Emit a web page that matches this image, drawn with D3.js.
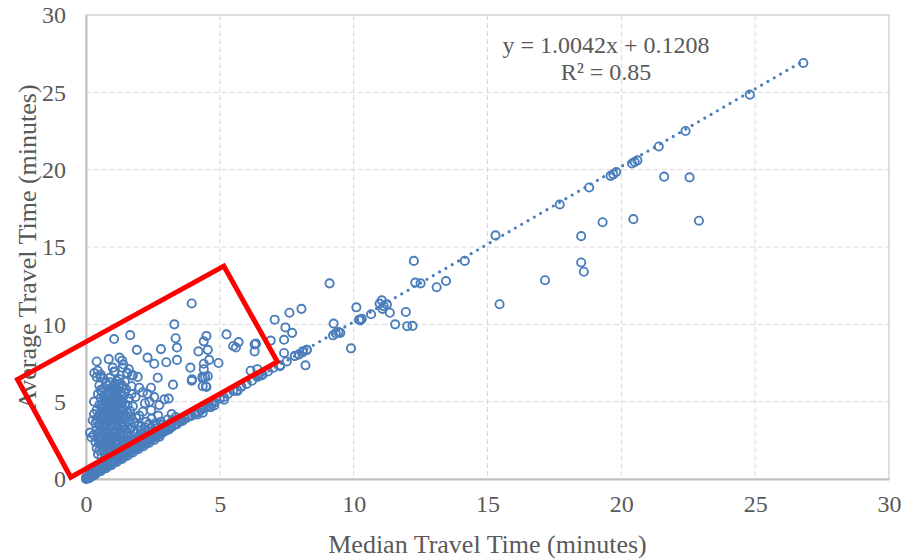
<!DOCTYPE html>
<html>
<head>
<meta charset="utf-8">
<script src="https://cdn.jsdelivr.net/npm/d3@7"></script>
<style>
  html, body { margin: 0; padding: 0; background: #ffffff; }
  svg { display: block; }
  .serif { font-family: "Liberation Serif", "Times New Roman", "DejaVu Serif", serif; }
</style>
</head>
<body>
<svg id="chart" width="904" height="559"></svg>
<script>
// Median vs. average travel time per trip pair, in minutes: [median, average]
const trips = [
  // near the origin and along the y = x band
  [0.00,0.00],[0.03,0.02],[0.06,0.04],[0.10,0.08],[0.00,0.10],[0.12,0.05],[0.15,0.12],[0.20,0.18],[0.25,0.20],[0.30,0.26],
  [0.02,0.05],[0.05,0.10],[0.08,0.12],[0.10,0.20],[0.12,0.15],[0.15,0.25],[0.18,0.22],[0.20,0.30],[0.22,0.35],[0.25,0.28],
  [0.28,0.40],[0.30,0.33],[0.32,0.45],[0.35,0.40],[0.38,0.50],[0.40,0.45],[0.42,0.60],[0.45,0.52],[0.48,0.58],[0.50,0.55],
  [0.52,0.70],[0.55,0.62],[0.58,0.75],[0.60,0.66],[0.62,0.80],[0.65,0.72],[0.68,0.85],[0.70,0.78],[0.72,0.95],[0.75,0.82],
  [0.78,0.90],[0.80,0.88],[0.82,1.05],[0.85,0.93],[0.88,1.00],[0.90,0.98],[0.92,1.15],[0.95,1.05],[0.98,1.10],[1.00,1.08],
  [1.02,1.25],[1.05,1.12],[1.08,1.20],[1.10,1.18],[1.12,1.35],[1.15,1.25],[1.18,1.30],[1.20,1.28],[1.22,1.45],[1.25,1.33],
  [1.28,1.40],[1.30,1.40],[1.33,1.55],[1.35,1.45],[1.38,1.50],[1.40,1.50],[1.43,1.62],[1.45,1.55],[1.48,1.60],[1.50,1.60],
  [1.55,1.70],[1.58,1.68],[1.60,1.75],[1.65,1.78],[1.68,1.85],[1.70,1.80],[1.75,1.90],[1.78,1.88],[1.80,1.95],[1.85,2.00],
  [1.88,1.98],[1.90,2.10],[1.95,2.05],[1.98,2.15],[2.00,2.12],[2.05,2.20],[2.10,2.22],[2.12,2.30],[2.15,2.27],[2.20,2.35],
  [2.25,2.38],[2.28,2.45],[2.30,2.42],[2.35,2.50],[2.40,2.52],[2.45,2.60],[2.50,2.62],[2.55,2.70],[2.60,2.72],[2.65,2.80],
  [2.70,2.85],[2.75,2.90],[2.80,2.95],[2.85,3.00],[2.90,3.05],[2.95,3.10],[3.00,3.15],[3.05,3.25],[3.10,3.20],
  [0.30,0.60],[0.40,0.75],[0.50,0.85],[0.60,1.00],[0.70,1.10],[0.80,1.20],[0.90,1.30],[1.00,1.45],[1.10,1.55],[1.20,1.65],
  [1.30,1.75],[1.40,1.85],[1.50,1.95],[1.60,2.05],[1.70,2.15],[1.80,2.25],[1.90,2.35],[2.00,2.45],[2.10,2.55],[2.20,2.70],
  [2.35,2.85],[2.50,2.95],[2.60,3.10],[2.75,3.20],[2.90,3.35],[3.00,3.45],
  [0.35,0.30],[0.55,0.50],[0.75,0.70],[0.95,0.90],[1.15,1.10],[1.35,1.30],[1.55,1.50],[1.75,1.72],[1.95,1.92],[2.15,2.12],
  [2.35,2.33],[2.55,2.52],[2.75,2.74],[0.45,0.80],[0.65,1.05],[0.85,1.30],[1.05,1.50],[1.25,1.70],[1.45,1.95],[1.65,2.20],
  [1.85,2.40],[2.05,2.65],[2.25,2.85],[2.45,3.05],[2.65,3.30],[2.85,3.50],[3.15,3.60],[3.25,3.80],[3.35,4.00],
  [1.60,2.35],[1.75,2.50],[1.90,2.65],[2.00,2.80],[2.15,2.95],[2.30,3.10],[2.45,3.30],[1.70,2.80],[1.85,2.95],[2.05,3.15],
  [2.20,3.35],[2.35,3.55],[2.60,3.45],[2.80,3.70],[1.65,3.20],[1.95,3.45],[2.45,3.90],[2.70,4.10],[3.05,3.85],[3.20,4.20],
  [3.20,3.35],[3.30,3.50],[3.40,3.55],[3.50,3.70],[3.55,3.85],[3.60,3.75],[3.70,3.90],[3.80,4.00],[3.85,4.10],[3.95,4.10],
  [4.05,4.20],[4.10,4.35],[4.20,4.30],[4.30,4.45],[4.40,4.60],[4.50,4.65],[4.60,4.75],[4.70,4.85],[4.80,4.95],[5.00,5.20],
  [5.15,5.30],[5.30,5.50],[5.50,5.70],[5.65,5.75],[5.80,5.95],[6.00,6.15],[6.20,6.35],[6.40,6.60],[6.55,6.70],[6.80,6.95],
  [7.00,7.20],[7.25,7.35],[7.50,7.60],[7.80,7.95],[7.95,8.05],[8.10,8.20],[8.25,8.35],[4.79,4.76],[4.66,4.65],[5.16,5.13],
  [3.49,3.85],[3.86,4.07],[4.17,4.17],[4.36,4.28],[5.66,5.70],[5.80,6.00],
  // vertical cluster of short median, longer average trips
  [0.45,1.60],[0.70,1.65],[0.95,1.70],[1.20,1.75],
  [0.40,2.00],[0.60,2.10],[0.85,1.95],[1.05,2.05],[1.30,2.10],
  [0.35,2.40],[0.55,2.50],[0.75,2.35],[0.95,2.45],[1.15,2.55],[1.40,2.40],
  [0.30,2.85],[0.50,2.75],[0.70,2.90],[0.90,2.80],[1.10,2.95],[1.30,2.85],[1.55,2.80],
  [0.40,3.20],[0.60,3.30],[0.80,3.15],[1.00,3.25],[1.20,3.30],[1.45,3.20],[1.70,3.35],
  [0.35,3.60],[0.55,3.70],[0.75,3.55],[0.95,3.65],[1.15,3.75],[1.35,3.60],[1.60,3.70],
  [0.45,4.00],[0.65,4.10],[0.85,3.95],[1.05,4.05],[1.25,4.15],[1.50,4.00],
  [0.40,4.45],[0.60,4.35],[0.80,4.50],[1.00,4.40],[1.20,4.30],[1.40,4.50],[1.65,4.40],
  [0.50,4.80],[0.75,4.90],[0.95,4.75],[1.15,4.85],[1.35,4.95],[1.55,4.75],
  [0.55,5.25],[0.80,5.15],[1.00,5.30],[1.20,5.20],[1.40,5.35],[1.60,5.20],
  [0.60,5.60],[0.85,5.70],[1.05,5.55],[1.30,5.65],[1.50,5.80],
  [0.50,6.05],[0.75,6.20],[1.00,6.00],[1.25,6.15],[1.45,6.30],[1.70,6.00],
  [0.85,2.20],[1.05,2.70],[0.65,3.00],[1.25,3.50],[0.90,4.20],[1.10,3.90],[0.70,4.65],[1.25,4.60],[0.90,5.45],[1.10,5.05],
  [0.50,1.85],[0.65,2.25],[0.80,2.60],[0.95,2.15],[1.10,2.30],[1.25,2.65],[1.40,2.95],[0.55,3.05],[0.70,3.40],[0.85,3.80],
  [1.00,3.45],[1.15,3.10],[1.30,3.95],[1.45,3.45],[0.50,3.50],[0.65,3.85],[0.80,4.25],[0.95,4.60],[1.10,4.20],[1.25,4.85],
  [1.40,4.15],[0.60,4.60],[0.70,5.00],[0.85,5.00],[1.00,4.95],[1.15,5.40],[1.30,5.00],[1.45,5.55],[0.70,5.45],[0.95,5.85],
  [1.15,5.85],[1.35,5.90],[0.65,5.85],[0.90,6.25],[1.15,6.35],[0.45,5.50],[0.40,3.85],[0.45,2.70],[0.55,2.25],[0.75,2.05],
  [1.00,1.85],[1.25,1.95],[1.50,2.25],[1.60,2.55],[1.55,3.00],[1.65,4.05],[1.55,4.25],[1.75,4.70],[1.70,5.50],[1.80,3.60],
  [0.58,1.40],[0.78,1.45],[1.02,1.55],[0.68,1.85],[0.92,1.95],[1.15,2.00],[1.38,2.15],[0.48,2.30],[0.72,2.60],[0.98,2.65],
  [1.20,2.45],[1.35,2.60],[0.62,2.75],[0.85,3.00],[1.05,3.00],[1.28,3.10],[0.48,3.00],[0.68,3.60],[0.92,3.40],[1.10,3.55],
  [1.35,3.35],[0.58,3.95],[0.78,3.75],[1.02,3.85],[1.20,3.95],[1.45,3.85],[0.52,4.25],[0.72,4.30],[0.92,4.05],[1.12,4.55],
  [1.32,4.35],[0.62,4.85],[0.82,4.75],[1.05,4.65],[1.22,5.05],[1.45,4.85],[0.68,5.25],[0.92,5.25],[1.12,5.65],[1.30,5.40],
  [0.80,5.55],[1.00,5.70],[0.55,5.75],[0.82,6.05],[1.08,6.15],[1.35,6.05],
  [0.30,5.00],[0.15,3.00],[0.20,2.70],[0.30,4.20],[0.25,3.80],
  [0.40,6.60],[0.55,6.75],[0.65,6.50],[0.90,6.55],[1.05,6.95],[1.25,6.45],[1.37,7.20],[1.55,6.85],[1.75,6.70],[0.31,6.85],
  [0.44,7.00],[0.85,7.75],[0.40,7.60],[1.00,7.20],[1.35,7.65],[1.25,7.85],[1.40,7.40],[1.05,9.05],[1.65,9.30],[1.60,7.10],
  [1.93,6.60],[1.99,5.90],[2.12,5.60],[2.30,5.50],[2.43,5.90],[2.37,5.00],[2.43,4.45],[2.74,4.78],[2.93,5.15],[3.09,5.20],
  [1.99,4.10],[2.12,4.35],[1.87,3.95],[3.25,6.10],[2.68,6.55],[3.96,6.45],[4.36,6.00],[4.55,6.65],[1.80,3.10],[2.05,3.40],
  [2.25,3.70],[2.60,3.60],[2.20,4.90],[1.85,5.30],[2.55,5.30],
  // upper part of the scatter up to ~5 min median
  [1.90,8.35],[2.80,8.40],[2.30,7.85],[2.55,7.45],[3.00,7.55],[3.40,7.70],[3.35,9.10],[3.40,8.50],[3.30,10.00],[3.95,11.35],
  [4.20,8.25],[4.40,8.90],[4.50,9.25],[4.55,8.35],[4.60,7.70],[3.90,7.20],[4.40,7.10],[4.45,6.60],[3.95,6.35],[4.36,6.50],
  [4.48,6.00],[4.35,6.60],[4.50,5.95],[4.40,7.45],[1.72,6.70],[1.53,6.85],[1.07,6.93],[0.54,6.60],
  // 5 to 10 min median
  [5.25,9.35],[5.50,8.60],[5.60,8.50],[5.70,8.85],[6.30,8.70],[6.35,8.75],[6.30,8.25],[4.95,7.50],[6.15,7.00],[6.40,7.10],
  [6.60,6.75],[6.45,6.70],[7.05,10.30],[7.60,10.75],[8.05,11.00],[7.45,9.80],[7.70,9.45],[9.10,12.65],[9.25,10.05],[7.40,9.00],
  [6.90,8.95],[7.40,8.15],[7.80,7.95],[7.95,8.05],[8.10,8.25],[8.25,8.35],[8.20,7.35],[7.25,7.30],[9.33,9.42],[9.23,9.29],
  [9.43,9.50],[9.50,9.45],[9.90,8.45],
  // 10 min median and above
  [10.10,11.10],[10.20,10.30],[10.30,10.35],[10.25,10.25],[10.65,10.65],[11.05,11.55],[10.97,11.34],[11.12,11.18],[11.24,11.29],[11.08,11.00],
  [11.35,10.75],[11.95,10.80],[11.55,10.00],[12.00,9.88],[12.20,9.90],[12.25,14.10],[12.30,12.70],[12.50,12.65],[13.45,12.80],[13.10,12.40],
  [14.15,14.10],[15.45,11.30],[15.30,15.75],[17.15,12.85],[17.70,17.75],[18.50,14.00],[18.60,13.40],[18.50,15.70],[18.80,18.85],[19.30,16.60],
  [19.60,19.60],[19.70,19.70],[19.81,19.85],[20.40,20.40],[20.50,20.50],[20.60,20.60],[20.45,16.80],[21.40,21.50],[21.60,19.55],[22.40,22.50],
  [22.55,19.50],[22.90,16.70],[24.80,24.85],[26.80,26.90]
];

// Least-squares fit shown on the chart
const fitSlope = 1.0042;
const fitIntercept = 0.1208;
const fitLabel = ["y = 1.0042x + 0.1208", "R\u00B2 = 0.85"];

// Axis ticks and titles
const xTicks = [0, 5, 10, 15, 20, 25, 30];
const yTicks = [0, 5, 10, 15, 20, 25, 30];
const xTitle = "Median Travel Time (minutes)";
const yTitle = "Average Travel Time (minutes)";

// Highlight box around the high-variability group, in data units
const highlightBox = [[-0.57, 0.11], [-2.56, 6.44], [5.15, 13.77], [7.15, 7.58]];

const svg = d3.select("#chart");
const plot = { left: 86, right: 889, top: 15, bottom: 479 };

const x = d3.scaleLinear().domain([0, 30]).range([plot.left, plot.right]);
const y = d3.scaleLinear().domain([0, 30]).range([plot.bottom, plot.top]);

const textColor = "#595959";
const blue = "#4a7dbb";

// dashed grid
const grid = svg.append("g");
grid.selectAll("line.gx").data(xTicks.slice(1, -1)).join("line")
  .attr("x1", d => x(d)).attr("x2", d => x(d))
  .attr("y1", plot.top).attr("y2", plot.bottom)
  .attr("stroke", "#d9d9d9").attr("stroke-width", 1).attr("stroke-dasharray", "5,3");
grid.selectAll("line.gy").data(yTicks.slice(1, -1)).join("line")
  .attr("x1", plot.left).attr("x2", plot.right)
  .attr("y1", d => y(d)).attr("y2", d => y(d))
  .attr("stroke", "#d9d9d9").attr("stroke-width", 1).attr("stroke-dasharray", "5,3");

// plot frame
svg.append("rect")
  .attr("x", plot.left).attr("y", plot.top)
  .attr("width", plot.right - plot.left).attr("height", plot.bottom - plot.top)
  .attr("fill", "none").attr("stroke", "#d4d4d4").attr("stroke-width", 1.5);

// axes
const xAxis = svg.append("g").attr("transform", `translate(0,${plot.bottom})`)
  .call(d3.axisBottom(x).tickValues(xTicks).tickSize(0).tickPadding(16));
const yAxis = svg.append("g").attr("transform", `translate(${plot.left},0)`)
  .call(d3.axisLeft(y).tickValues(yTicks).tickSize(0).tickPadding(20));
[xAxis, yAxis].forEach(g => {
  g.attr("font-family", null).attr("font-size", null).attr("class", "serif");
  g.select(".domain").attr("stroke", "#bfbfbf").attr("stroke-width", 2);
  g.selectAll("text").attr("class", "serif").style("font-size", "24px").attr("fill", textColor);
});
xAxis.selectAll("text").attr("dy", "0.71em");

// points
svg.append("g").selectAll("circle").data(trips).join("circle")
  .attr("cx", d => x(d[0])).attr("cy", d => y(d[1])).attr("r", 4.1)
  .attr("fill", "none").attr("stroke", blue).attr("stroke-width", 1.9);

// dotted trend line over the data range
const xMax = d3.max(trips, d => d[0]);
svg.append("line")
  .attr("x1", x(0)).attr("y1", y(fitIntercept))
  .attr("x2", x(xMax)).attr("y2", y(fitSlope * xMax + fitIntercept))
  .attr("stroke", blue).attr("stroke-width", 3.2)
  .attr("stroke-linecap", "round").attr("stroke-dasharray", "0,7.3");

// equation label
svg.append("g").selectAll("text").data(fitLabel).join("text")
  .attr("class", "serif")
  .attr("x", 606).attr("y", (d, i) => 53 + i * 27)
  .attr("text-anchor", "middle")
  .style("font-size", "24px").attr("fill", textColor)
  .text(d => d);

// axis titles
svg.append("text")
  .attr("class", "serif")
  .attr("x", (plot.left + plot.right) / 2).attr("y", 553)
  .attr("text-anchor", "middle")
  .style("font-size", "26px").attr("fill", textColor)
  .text(xTitle);
svg.append("text")
  .attr("class", "serif")
  .attr("transform", `translate(36,${(plot.top + plot.bottom) / 2}) rotate(-90)`)
  .attr("text-anchor", "middle")
  .style("font-size", "26px").attr("fill", textColor)
  .text(yTitle);

// highlight box
svg.append("polygon")
  .attr("points", highlightBox.map(p => [x(p[0]), y(p[1])].join(",")).join(" "))
  .attr("fill", "none").attr("stroke", "#ff0000").attr("stroke-width", 5)
  .attr("stroke-linejoin", "miter");
</script>
</body>
</html>
